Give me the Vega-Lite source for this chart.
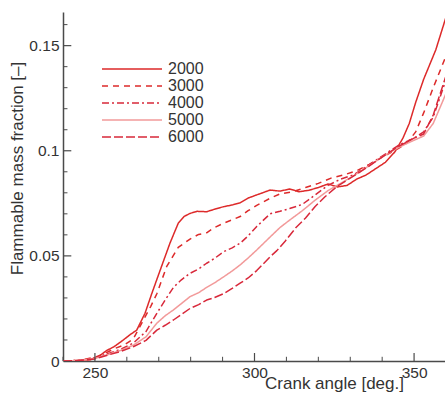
{
  "$schema": "https://vega.github.io/schema/vega-lite/v6.json",
  "width": 383,
  "height": 349,
  "autosize": "none",
  "padding": {"left": 63, "top": 12, "right": 0, "bottom": 33},
  "background": "white",
  "config": {
    "view": {"stroke": null},
    "font": "Liberation Sans"
  },
  "datasets": {
    "xticks_major": [{"angle": 250}, {"angle": 300}, {"angle": 350}],
    "xticks_minor": [{"angle": 240}, {"angle": 260}, {"angle": 270}, {"angle": 280}, {"angle": 290}, {"angle": 310}, {"angle": 320}, {"angle": 330}, {"angle": 340}, {"angle": 360}],
    "yticks_major": [{"frac": 0.05}, {"frac": 0.1}, {"frac": 0.15}],
    "yticks_minor": [{"frac": 0.01}, {"frac": 0.02}, {"frac": 0.03}, {"frac": 0.04}, {"frac": 0.06}, {"frac": 0.07}, {"frac": 0.08}, {"frac": 0.09}, {"frac": 0.11}, {"frac": 0.12}, {"frac": 0.13}, {"frac": 0.14}, {"frac": 0.16}],
    "curves": [
      {"rpm": "2000", "angle": 240, "frac": 0},
      {"rpm": "2000", "angle": 245, "frac": 0.0002},
      {"rpm": "2000", "angle": 248.5, "frac": 0.0006},
      {"rpm": "2000", "angle": 251, "frac": 0.002},
      {"rpm": "2000", "angle": 253.7, "frac": 0.005},
      {"rpm": "2000", "angle": 256, "frac": 0.0068},
      {"rpm": "2000", "angle": 258.9, "frac": 0.01},
      {"rpm": "2000", "angle": 261, "frac": 0.0125},
      {"rpm": "2000", "angle": 263.1, "frac": 0.0147},
      {"rpm": "2000", "angle": 265.7, "frac": 0.0227},
      {"rpm": "2000", "angle": 267.8, "frac": 0.032},
      {"rpm": "2000", "angle": 270.4, "frac": 0.043},
      {"rpm": "2000", "angle": 273.5, "frac": 0.056},
      {"rpm": "2000", "angle": 276.1, "frac": 0.0655},
      {"rpm": "2000", "angle": 278, "frac": 0.0688},
      {"rpm": "2000", "angle": 279.8, "frac": 0.0702},
      {"rpm": "2000", "angle": 282, "frac": 0.0712},
      {"rpm": "2000", "angle": 285, "frac": 0.071},
      {"rpm": "2000", "angle": 287.5, "frac": 0.0722},
      {"rpm": "2000", "angle": 290.3, "frac": 0.0734},
      {"rpm": "2000", "angle": 293, "frac": 0.0742},
      {"rpm": "2000", "angle": 295.5, "frac": 0.0752},
      {"rpm": "2000", "angle": 298, "frac": 0.0775},
      {"rpm": "2000", "angle": 300.7, "frac": 0.079},
      {"rpm": "2000", "angle": 304.9, "frac": 0.0813},
      {"rpm": "2000", "angle": 308, "frac": 0.0808},
      {"rpm": "2000", "angle": 311, "frac": 0.0818},
      {"rpm": "2000", "angle": 314, "frac": 0.0805},
      {"rpm": "2000", "angle": 317, "frac": 0.0812},
      {"rpm": "2000", "angle": 320, "frac": 0.0825},
      {"rpm": "2000", "angle": 323, "frac": 0.0842},
      {"rpm": "2000", "angle": 326, "frac": 0.0828},
      {"rpm": "2000", "angle": 329, "frac": 0.0835},
      {"rpm": "2000", "angle": 332, "frac": 0.0865},
      {"rpm": "2000", "angle": 335, "frac": 0.0885},
      {"rpm": "2000", "angle": 338, "frac": 0.0915},
      {"rpm": "2000", "angle": 341, "frac": 0.0945},
      {"rpm": "2000", "angle": 344, "frac": 0.0995},
      {"rpm": "2000", "angle": 346.5, "frac": 0.106},
      {"rpm": "2000", "angle": 348.5, "frac": 0.113},
      {"rpm": "2000", "angle": 350.5, "frac": 0.123},
      {"rpm": "2000", "angle": 353, "frac": 0.134},
      {"rpm": "2000", "angle": 356.8, "frac": 0.148},
      {"rpm": "2000", "angle": 360.5, "frac": 0.166},

      {"rpm": "3000", "angle": 240, "frac": 0},
      {"rpm": "3000", "angle": 245, "frac": 0.0003},
      {"rpm": "3000", "angle": 250, "frac": 0.0018},
      {"rpm": "3000", "angle": 253, "frac": 0.0035},
      {"rpm": "3000", "angle": 256, "frac": 0.0058},
      {"rpm": "3000", "angle": 259, "frac": 0.0075},
      {"rpm": "3000", "angle": 262, "frac": 0.0105},
      {"rpm": "3000", "angle": 265.2, "frac": 0.0195},
      {"rpm": "3000", "angle": 267.5, "frac": 0.026},
      {"rpm": "3000", "angle": 269.4, "frac": 0.032},
      {"rpm": "3000", "angle": 272.5, "frac": 0.045},
      {"rpm": "3000", "angle": 276.1, "frac": 0.054},
      {"rpm": "3000", "angle": 279.8, "frac": 0.058},
      {"rpm": "3000", "angle": 282.5, "frac": 0.0602},
      {"rpm": "3000", "angle": 285, "frac": 0.061},
      {"rpm": "3000", "angle": 287.5, "frac": 0.0635},
      {"rpm": "3000", "angle": 290.3, "frac": 0.0655},
      {"rpm": "3000", "angle": 295.5, "frac": 0.0687},
      {"rpm": "3000", "angle": 298, "frac": 0.0715},
      {"rpm": "3000", "angle": 300.7, "frac": 0.074},
      {"rpm": "3000", "angle": 304.9, "frac": 0.0774},
      {"rpm": "3000", "angle": 308, "frac": 0.0795},
      {"rpm": "3000", "angle": 312, "frac": 0.0805},
      {"rpm": "3000", "angle": 316, "frac": 0.0825},
      {"rpm": "3000", "angle": 320, "frac": 0.0845},
      {"rpm": "3000", "angle": 324, "frac": 0.087},
      {"rpm": "3000", "angle": 328, "frac": 0.0885},
      {"rpm": "3000", "angle": 332, "frac": 0.0905},
      {"rpm": "3000", "angle": 336, "frac": 0.0935},
      {"rpm": "3000", "angle": 340, "frac": 0.097},
      {"rpm": "3000", "angle": 345, "frac": 0.101},
      {"rpm": "3000", "angle": 348, "frac": 0.104},
      {"rpm": "3000", "angle": 350.5, "frac": 0.109},
      {"rpm": "3000", "angle": 353, "frac": 0.118},
      {"rpm": "3000", "angle": 356, "frac": 0.13},
      {"rpm": "3000", "angle": 360.5, "frac": 0.147},

      {"rpm": "4000", "angle": 240, "frac": 0},
      {"rpm": "4000", "angle": 245, "frac": 0.0003},
      {"rpm": "4000", "angle": 250, "frac": 0.0015},
      {"rpm": "4000", "angle": 254, "frac": 0.0035},
      {"rpm": "4000", "angle": 258, "frac": 0.0055},
      {"rpm": "4000", "angle": 262, "frac": 0.0085},
      {"rpm": "4000", "angle": 266, "frac": 0.014},
      {"rpm": "4000", "angle": 269.4, "frac": 0.0227},
      {"rpm": "4000", "angle": 272, "frac": 0.029},
      {"rpm": "4000", "angle": 274.6, "frac": 0.035},
      {"rpm": "4000", "angle": 277, "frac": 0.0385},
      {"rpm": "4000", "angle": 279.8, "frac": 0.0417},
      {"rpm": "4000", "angle": 282.5, "frac": 0.0438},
      {"rpm": "4000", "angle": 285, "frac": 0.0465},
      {"rpm": "4000", "angle": 287.5, "frac": 0.0488},
      {"rpm": "4000", "angle": 290.3, "frac": 0.052},
      {"rpm": "4000", "angle": 293, "frac": 0.0538},
      {"rpm": "4000", "angle": 295.5, "frac": 0.056},
      {"rpm": "4000", "angle": 298, "frac": 0.0595},
      {"rpm": "4000", "angle": 300.7, "frac": 0.064},
      {"rpm": "4000", "angle": 304.9, "frac": 0.07},
      {"rpm": "4000", "angle": 308, "frac": 0.0712},
      {"rpm": "4000", "angle": 311, "frac": 0.0725},
      {"rpm": "4000", "angle": 315, "frac": 0.0745},
      {"rpm": "4000", "angle": 319, "frac": 0.079},
      {"rpm": "4000", "angle": 323, "frac": 0.0835},
      {"rpm": "4000", "angle": 327, "frac": 0.0865},
      {"rpm": "4000", "angle": 331, "frac": 0.0885},
      {"rpm": "4000", "angle": 335, "frac": 0.0925},
      {"rpm": "4000", "angle": 340, "frac": 0.0975},
      {"rpm": "4000", "angle": 345, "frac": 0.1025},
      {"rpm": "4000", "angle": 350, "frac": 0.106},
      {"rpm": "4000", "angle": 353, "frac": 0.109},
      {"rpm": "4000", "angle": 356, "frac": 0.116},
      {"rpm": "4000", "angle": 360.5, "frac": 0.136},

      {"rpm": "5000", "angle": 240, "frac": 0},
      {"rpm": "5000", "angle": 245, "frac": 0.0002},
      {"rpm": "5000", "angle": 250, "frac": 0.0012},
      {"rpm": "5000", "angle": 254, "frac": 0.003},
      {"rpm": "5000", "angle": 258, "frac": 0.005},
      {"rpm": "5000", "angle": 262, "frac": 0.0075},
      {"rpm": "5000", "angle": 266, "frac": 0.0115},
      {"rpm": "5000", "angle": 269.4, "frac": 0.018},
      {"rpm": "5000", "angle": 272, "frac": 0.0215},
      {"rpm": "5000", "angle": 274.6, "frac": 0.0243},
      {"rpm": "5000", "angle": 277, "frac": 0.0272},
      {"rpm": "5000", "angle": 279.8, "frac": 0.0306},
      {"rpm": "5000", "angle": 282.5, "frac": 0.0325},
      {"rpm": "5000", "angle": 285, "frac": 0.035},
      {"rpm": "5000", "angle": 287.5, "frac": 0.0372},
      {"rpm": "5000", "angle": 290.3, "frac": 0.04},
      {"rpm": "5000", "angle": 293, "frac": 0.0428},
      {"rpm": "5000", "angle": 295.5, "frac": 0.0457},
      {"rpm": "5000", "angle": 298, "frac": 0.049},
      {"rpm": "5000", "angle": 300.7, "frac": 0.0528},
      {"rpm": "5000", "angle": 304.9, "frac": 0.059},
      {"rpm": "5000", "angle": 308, "frac": 0.0635},
      {"rpm": "5000", "angle": 311, "frac": 0.067},
      {"rpm": "5000", "angle": 315, "frac": 0.0715},
      {"rpm": "5000", "angle": 319, "frac": 0.0765},
      {"rpm": "5000", "angle": 323, "frac": 0.081},
      {"rpm": "5000", "angle": 327, "frac": 0.0845},
      {"rpm": "5000", "angle": 331, "frac": 0.088},
      {"rpm": "5000", "angle": 335, "frac": 0.092},
      {"rpm": "5000", "angle": 340, "frac": 0.097},
      {"rpm": "5000", "angle": 345, "frac": 0.1015},
      {"rpm": "5000", "angle": 350, "frac": 0.105},
      {"rpm": "5000", "angle": 353, "frac": 0.107},
      {"rpm": "5000", "angle": 356, "frac": 0.113},
      {"rpm": "5000", "angle": 360.5, "frac": 0.129},

      {"rpm": "6000", "angle": 240, "frac": 0},
      {"rpm": "6000", "angle": 245, "frac": 0.0002},
      {"rpm": "6000", "angle": 250, "frac": 0.001},
      {"rpm": "6000", "angle": 254, "frac": 0.0028},
      {"rpm": "6000", "angle": 258, "frac": 0.0045},
      {"rpm": "6000", "angle": 262, "frac": 0.0068},
      {"rpm": "6000", "angle": 266, "frac": 0.0098},
      {"rpm": "6000", "angle": 269.4, "frac": 0.0147},
      {"rpm": "6000", "angle": 272, "frac": 0.017},
      {"rpm": "6000", "angle": 274.6, "frac": 0.0195},
      {"rpm": "6000", "angle": 277, "frac": 0.022},
      {"rpm": "6000", "angle": 279.8, "frac": 0.025},
      {"rpm": "6000", "angle": 282.5, "frac": 0.0268},
      {"rpm": "6000", "angle": 285, "frac": 0.029},
      {"rpm": "6000", "angle": 287.5, "frac": 0.0302},
      {"rpm": "6000", "angle": 290.3, "frac": 0.032},
      {"rpm": "6000", "angle": 293, "frac": 0.0345},
      {"rpm": "6000", "angle": 295.5, "frac": 0.037},
      {"rpm": "6000", "angle": 298, "frac": 0.0395},
      {"rpm": "6000", "angle": 300.7, "frac": 0.043},
      {"rpm": "6000", "angle": 304.9, "frac": 0.0496},
      {"rpm": "6000", "angle": 307, "frac": 0.0525},
      {"rpm": "6000", "angle": 309.6, "frac": 0.057},
      {"rpm": "6000", "angle": 313, "frac": 0.0635},
      {"rpm": "6000", "angle": 316, "frac": 0.068},
      {"rpm": "6000", "angle": 319, "frac": 0.0735},
      {"rpm": "6000", "angle": 322, "frac": 0.078},
      {"rpm": "6000", "angle": 326, "frac": 0.0832},
      {"rpm": "6000", "angle": 330, "frac": 0.087},
      {"rpm": "6000", "angle": 335, "frac": 0.0918},
      {"rpm": "6000", "angle": 340, "frac": 0.097},
      {"rpm": "6000", "angle": 345, "frac": 0.102},
      {"rpm": "6000", "angle": 350, "frac": 0.106},
      {"rpm": "6000", "angle": 353, "frac": 0.108},
      {"rpm": "6000", "angle": 356, "frac": 0.117},
      {"rpm": "6000", "angle": 360.5, "frac": 0.138}
    ]
  },
  "layer": [
    {
      "data": {"name": "curves"},
      "mark": {"type": "line", "clip": true, "strokeCap": "butt", "strokeJoin": "round", "interpolate": "linear"},
      "encoding": {
        "x": {
          "field": "angle", "type": "quantitative",
          "scale": {"domain": [240, 360], "nice": false, "zero": false},
          "axis": {
            "values": [250, 300, 350],
            "title": "Crank angle [deg.]",
            "titleFont": "Liberation Sans", "titleFontSize": 17, "titleFontWeight": "normal", "titleColor": "#333333",
            "titleX": 271, "titleY": 27, "titleAlign": "center", "titleBaseline": "alphabetic",
            "labelFont": "Liberation Sans", "labelFontSize": 15.5, "labelColor": "#333333",
            "labelPadding": 4, "labelFlush": false, "labelOverlap": false,
            "domainColor": "#4a4a4a", "domainWidth": 1.5,
            "ticks": false,
            "grid": false
          }
        },
        "y": {
          "field": "frac", "type": "quantitative",
          "scale": {"domain": [0, 0.166], "nice": false},
          "axis": {
            "values": [0, 0.05, 0.1, 0.15],
            "labelExpr": "format(datum.value, '~g')",
            "title": "Flammable mass fraction [\u2013]",
            "titleFont": "Liberation Sans", "titleFontSize": 17, "titleFontWeight": "normal", "titleColor": "#333333",
            "titleX": -46, "titleY": 156, "titleAlign": "center", "titleBaseline": "middle", "titleAngle": -90,
            "labelFont": "Liberation Sans", "labelFontSize": 15.5, "labelColor": "#333333",
            "labelPadding": 4, "labelFlush": false, "labelOverlap": false,
            "domainColor": "#4a4a4a", "domainWidth": 1.5,
            "ticks": false,
            "grid": false
          }
        },
        "color": {
          "field": "rpm", "type": "nominal",
          "scale": {"domain": ["2000", "3000", "4000", "5000", "6000"], "range": ["#dd2a2a", "#dd2a2a", "#d8283a", "#f29a9a", "#d8283a"]},
          "legend": {
            "orient": "none", "legendX": 61, "legendY": 49, "title": null,
            "symbolType": "M-5,0H5", "symbolSize": 144, "symbolStrokeWidth": 1.5,
            "labelFont": "Liberation Sans", "labelFontSize": 16, "labelColor": "#333333",
            "labelOffset": 28, "rowPadding": 1, "padding": 0
          }
        },
        "strokeDash": {
          "field": "rpm", "type": "nominal",
          "scale": {"domain": ["2000", "3000", "4000", "5000", "6000"], "range": [[1, 0], [6, 5], [7, 3, 2, 3], [1, 0], [9, 3]]},
          "legend": null
        },
        "strokeWidth": {
          "field": "rpm", "type": "nominal",
          "scale": {"domain": ["2000", "3000", "4000", "5000", "6000"], "range": [1.5, 1.5, 1.5, 1.1, 1.5]},
          "legend": null
        }
      }
    },
    {
      "data": {"name": "xticks_major"},
      "mark": {"type": "rule", "color": "#4a4a4a", "strokeWidth": 1.2},
      "encoding": {
        "x": {"field": "angle", "type": "quantitative"},
        "y": {"datum": 0},
        "y2": {"datum": 0.0038}
      }
    },
    {
      "data": {"name": "xticks_minor"},
      "mark": {"type": "rule", "color": "#4a4a4a", "strokeWidth": 1},
      "encoding": {
        "x": {"field": "angle", "type": "quantitative"},
        "y": {"datum": 0},
        "y2": {"datum": 0.002}
      }
    },
    {
      "data": {"name": "yticks_major"},
      "mark": {"type": "rule", "color": "#4a4a4a", "strokeWidth": 1.2},
      "encoding": {
        "y": {"field": "frac", "type": "quantitative"},
        "x": {"datum": 240},
        "x2": {"datum": 242.6}
      }
    },
    {
      "data": {"name": "yticks_minor"},
      "mark": {"type": "rule", "color": "#4a4a4a", "strokeWidth": 1},
      "encoding": {
        "y": {"field": "frac", "type": "quantitative"},
        "x": {"datum": 240},
        "x2": {"datum": 241.4}
      }
    }
  ]
}
